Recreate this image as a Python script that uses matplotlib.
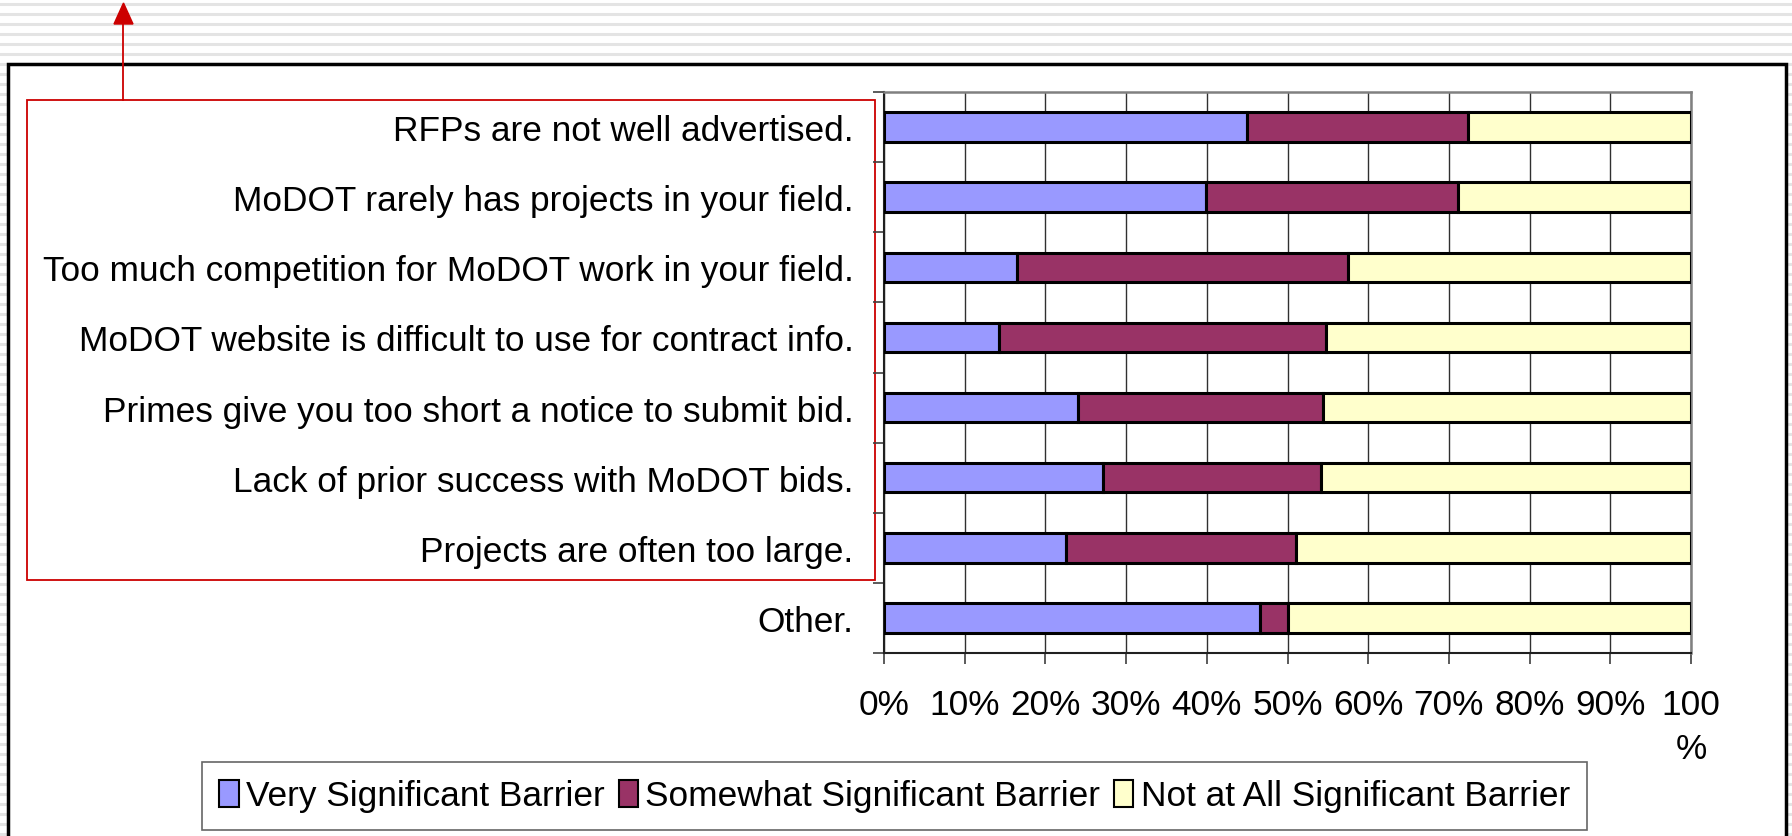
import matplotlib
matplotlib.use("Agg")
import matplotlib.pyplot as plt
from matplotlib.patches import Rectangle, Patch
import numpy as np

plt.rcParams['font.family'] = ['Liberation Sans', 'DejaVu Sans']

categories = [
    "RFPs are not well advertised.",
    "MoDOT rarely has projects in your field.",
    "Too much competition for MoDOT work in your field.",
    "MoDOT website is difficult to use for contract info.",
    "Primes give you too short a notice to submit bid.",
    "Lack of prior success with MoDOT bids.",
    "Projects are often too large.",
    "Other.",
]
very = [45.0, 39.9, 16.5, 14.2, 24.0, 27.1, 22.6, 46.6]
somewhat = [27.4, 31.2, 41.0, 40.6, 30.4, 27.0, 28.4, 3.4]
not_at_all = [27.6, 28.9, 42.5, 45.2, 45.6, 45.9, 49.0, 50.0]
series_names = ["Very Significant Barrier", "Somewhat Significant Barrier",
                "Not at All Significant Barrier"]
series_colors = ["#9999FF", "#993366", "#FFFFCC"]
xtick_labels = ["0%", "10%", "20%", "30%", "40%", "50%", "60%", "70%", "80%", "90%", "100\n%"]

FS = 25.4
W, H = 1792, 837
fig = plt.figure(figsize=(W / 100, H / 100), dpi=100)

# background with stripes
bg = fig.add_axes([0, 0, 1, 1], zorder=-10)
bg.set_xlim(0, W)
bg.set_ylim(H, 0)
bg.axis('off')
for yy in np.arange(5, H, 10):
    bg.axhline(yy, color='#e4e4e4', lw=2.2, zorder=1)
# white frame
bg.add_patch(Rectangle((8, 65), 1778, 800, facecolor='white', edgecolor='black',
                       lw=2.5, zorder=5))
# red box and arrow
bg.add_patch(Rectangle((27, 100.5), 848, 480, facecolor='none', edgecolor='#cc0000',
                       lw=1.3, zorder=6))
bg.plot([123, 123], [100.5, 24], color='#cc0000', lw=1.3, zorder=6)
bg.add_patch(plt.Polygon([[114, 25], [133, 25], [123.5, 4]], closed=True,
                         facecolor='#cc0000', edgecolor='#cc0000', zorder=6))

ax = fig.add_axes([884 / W, 1 - 654 / H, (1691 - 884) / W, (654 - 93) / H])
y = np.arange(len(categories))
left = np.zeros(len(categories))
for vals, name, col in zip([very, somewhat, not_at_all], series_names, series_colors):
    ax.barh(y, vals, left=left, height=0.42, color=col, edgecolor='black',
            linewidth=2.2, label=name, zorder=3)
    left = left + np.array(vals)

ax.set_ylim(len(categories) - 0.5, -0.5)
ax.set_xlim(0, 100)
ax.set_yticks(y)
ax.set_yticklabels(categories, fontsize=FS)
ax.set_yticks(np.arange(-0.5, len(categories), 1), minor=True)
ax.tick_params(axis='y', which='major', length=0, pad=22)
ax.tick_params(axis='y', which='minor', length=8, width=1.2, color='#404040', direction='out')
ax.set_xticks(np.arange(0, 101, 10))
ax.set_xticklabels(xtick_labels, fontsize=FS, linespacing=1.45)
ax.tick_params(axis='x', length=8, width=1.2, color='#404040', pad=17)
ax.grid(axis='x', color='#303030', lw=1.0, zorder=0)
for s in ['top', 'right']:
    ax.spines[s].set_color('#808080')
    ax.spines[s].set_linewidth(1.8)
for s in ['left', 'bottom']:
    ax.spines[s].set_color('#202020')
    ax.spines[s].set_linewidth(1.5)

handles = [Patch(facecolor=c, edgecolor='black', lw=1.5) for c in series_colors]
leg = fig.legend(handles, series_names, loc='center', ncol=3,
                 bbox_to_anchor=((191 + 1598) / 2 / W, 1 - 797 / H),
                 fontsize=FS, frameon=True, fancybox=False, edgecolor='#404040',
                 handlelength=0.55, handleheight=0.8, handletextpad=0.2,
                 columnspacing=0.4, borderpad=0.5)
leg.get_frame().set_linewidth(1.2)

fig.savefig("out.png", dpi=100)
